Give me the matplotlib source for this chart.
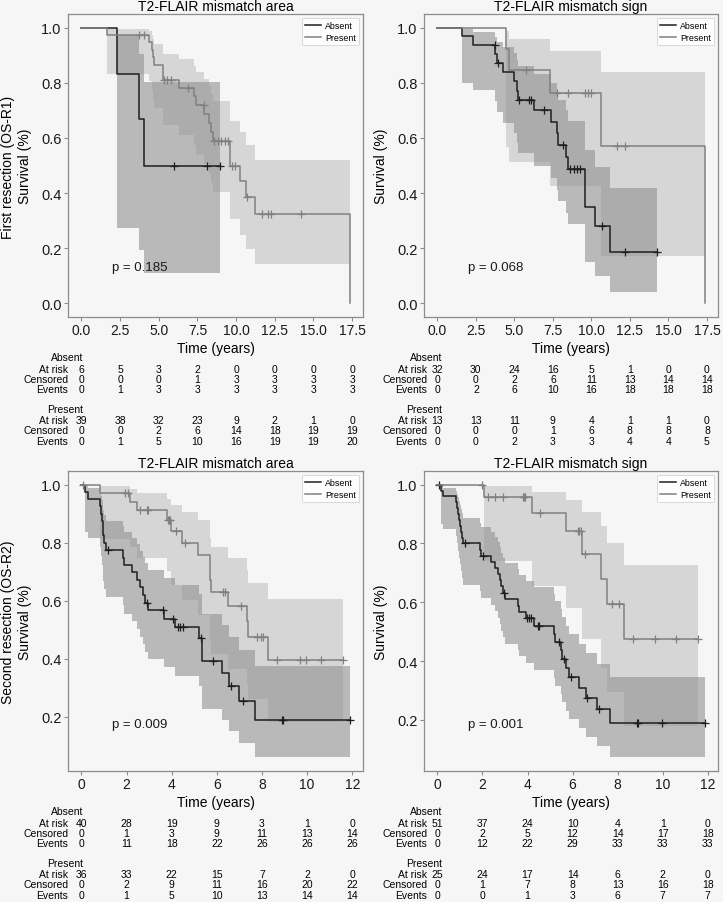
import numpy as np
import matplotlib.pyplot as plt

plt.rcParams['font.family'] = ['Liberation Sans', 'DejaVu Sans']
plt.rcParams['axes.edgecolor'] = '#8c8c8c'
plt.rcParams['xtick.color'] = '#8c8c8c'
plt.rcParams['ytick.color'] = '#8c8c8c'
plt.rcParams['xtick.labelcolor'] = '#1a1a1a'
plt.rcParams['ytick.labelcolor'] = '#1a1a1a'

BG = '#f6f6f6'
ABS_LINE, ABS_FILL = '#1e1e1e', '#2e2e2e'
PRE_LINE, PRE_FILL = '#808080', '#8e8e8e'

# ---------------- OS-R1, T2-FLAIR mismatch area ----------------
a1_abs_t = [2.32, 3.71, 4.03]
a1_abs_s = [0.833, 0.667, 0.500]
a1_abs_lo = [0.273, 0.194, 0.111]
a1_abs_hi = [0.975, 0.904, 0.804]
a1_abs_cens = [5.97, 8.15, 8.97]

a1_pre_t = [1.63, 4.36, 4.55, 4.64, 4.72, 5.25, 5.30, 6.29, 7.30, 7.40, 7.94,
            8.28, 8.37, 8.48, 9.62, 10.26, 10.65, 11.22, 17.34]
a1_pre_s = [0.974, 0.947, 0.920, 0.893, 0.866, 0.839, 0.812, 0.782, 0.751, 0.719,
            0.687, 0.654, 0.621, 0.589, 0.498, 0.443, 0.387, 0.323, 0.0]
a1_pre_lo = [0.832, 0.805, 0.773, 0.740, 0.708, 0.676, 0.646, 0.610, 0.574, 0.539,
             0.504, 0.469, 0.436, 0.403, 0.307, 0.249, 0.198, 0.141, 0.141]
a1_pre_hi = [0.996, 0.987, 0.974, 0.959, 0.942, 0.924, 0.906, 0.885, 0.862, 0.839,
             0.814, 0.788, 0.761, 0.734, 0.663, 0.620, 0.574, 0.520, 0.520]
a1_pre_cens = [3.71, 4.03, 5.34, 5.54, 5.79, 6.87, 7.90, 8.55, 8.80, 9.05, 9.30,
               9.50, 9.72, 9.92, 10.72, 11.65, 12.08, 12.23, 14.23]

# ---------------- OS-R1, T2-FLAIR mismatch sign ----------------
s1_abs_t = [1.61, 2.32, 3.75, 3.85, 4.25, 4.95, 5.15, 5.22, 6.29, 7.37, 7.79,
            7.86, 8.37, 8.48, 9.58, 10.26, 11.23]
s1_abs_s = [0.969, 0.938, 0.905, 0.873, 0.839, 0.806, 0.772, 0.739, 0.700, 0.659,
            0.617, 0.576, 0.532, 0.488, 0.348, 0.279, 0.186]
s1_abs_lo = [0.798, 0.773, 0.734, 0.696, 0.656, 0.617, 0.580, 0.544, 0.500, 0.455,
             0.412, 0.371, 0.328, 0.287, 0.151, 0.100, 0.039]
s1_abs_hi = [0.996, 0.984, 0.968, 0.950, 0.930, 0.908, 0.884, 0.860, 0.832, 0.801,
             0.769, 0.736, 0.700, 0.662, 0.555, 0.493, 0.417]
s1_abs_cens = [3.71, 3.95, 5.33, 5.97, 6.05, 6.89, 8.16, 8.59, 8.87, 9.08, 9.23,
               10.69, 12.20, 14.24]

s1_pre_t = [4.47, 4.62, 7.30, 10.65, 17.35]
s1_pre_s = [0.923, 0.846, 0.762, 0.571, 0.0]
s1_pre_lo = [0.566, 0.512, 0.427, 0.170, 0.170]
s1_pre_hi = [0.989, 0.959, 0.917, 0.838, 0.838]
s1_pre_cens = [5.75, 7.75, 8.48, 9.58, 9.80, 9.95, 11.66, 12.15]

# ---------------- OS-R2, T2-FLAIR mismatch area ----------------
a2_abs_t = [0.18, 0.28, 0.81, 0.86, 0.90, 0.94, 0.97, 1.02, 1.10, 1.84, 1.90, 2.24,
            2.46, 2.58, 2.75, 2.80, 2.97, 3.64, 4.15, 5.23, 5.35, 6.21, 6.55, 7.00, 7.69]
a2_abs_s = [0.975, 0.950, 0.925, 0.900, 0.875, 0.850, 0.825, 0.800, 0.775, 0.749,
            0.723, 0.698, 0.672, 0.646, 0.620, 0.594, 0.567, 0.539, 0.509, 0.473,
            0.394, 0.350, 0.306, 0.255, 0.191]
a2_abs_lo = [0.836, 0.815, 0.785, 0.755, 0.725, 0.696, 0.668, 0.640, 0.612, 0.584,
             0.556, 0.529, 0.502, 0.476, 0.450, 0.425, 0.399, 0.371, 0.342, 0.305,
             0.229, 0.189, 0.152, 0.110, 0.061]
a2_abs_hi = [0.996, 0.987, 0.975, 0.961, 0.946, 0.930, 0.912, 0.895, 0.876, 0.856,
             0.836, 0.816, 0.794, 0.773, 0.751, 0.729, 0.705, 0.680, 0.654, 0.623,
             0.555, 0.517, 0.476, 0.430, 0.376]
a2_abs_cens = [1.16, 2.90, 3.60, 4.05, 4.30, 4.37, 4.48, 5.30, 5.85, 6.63, 7.17,
               8.87, 8.94, 11.88]

a2_pre_t = [0.84, 2.16, 2.46, 3.78, 3.97, 4.45, 5.18, 5.68, 5.70, 5.74, 6.51, 7.32,
            7.40, 8.28]
a2_pre_s = [0.971, 0.941, 0.911, 0.877, 0.839, 0.799, 0.757, 0.715, 0.673, 0.631,
            0.582, 0.529, 0.476, 0.397]
a2_pre_lo = [0.814, 0.784, 0.748, 0.704, 0.653, 0.602, 0.552, 0.504, 0.460, 0.417,
             0.366, 0.313, 0.263, 0.183]
a2_pre_hi = [0.996, 0.985, 0.970, 0.952, 0.930, 0.905, 0.878, 0.848, 0.817, 0.785,
             0.747, 0.706, 0.662, 0.605]
a2_pre_cens = [0.05, 1.92, 2.05, 2.58, 2.90, 2.95, 3.85, 3.88, 3.93, 4.20, 4.60,
               6.26, 6.36, 7.05, 7.76, 7.95, 8.06, 8.65, 9.68, 9.94, 10.63, 11.59]

# ---------------- OS-R2, T2-FLAIR mismatch sign ----------------
s2_abs_t = [0.15, 0.24, 0.82, 0.88, 0.92, 0.96, 1.00, 1.05, 1.10, 1.15, 1.88, 1.95,
            2.39, 2.54, 2.69, 2.76, 2.83, 2.91, 3.02, 3.57, 3.64, 3.93, 4.30, 5.18,
            5.22, 5.47, 5.52, 5.70, 5.84, 6.28, 6.60, 7.10, 7.68]
s2_abs_s = [0.980, 0.960, 0.940, 0.920, 0.900, 0.880, 0.860, 0.840, 0.820, 0.800,
            0.779, 0.759, 0.738, 0.717, 0.696, 0.675, 0.654, 0.632, 0.611, 0.589,
            0.567, 0.545, 0.520, 0.493, 0.466, 0.437, 0.407, 0.376, 0.345, 0.310,
            0.276, 0.236, 0.189]
s2_abs_lo = [0.866, 0.849, 0.825, 0.801, 0.776, 0.752, 0.729, 0.705, 0.683, 0.660,
             0.637, 0.615, 0.592, 0.569, 0.547, 0.525, 0.503, 0.481, 0.459, 0.437,
             0.416, 0.395, 0.370, 0.342, 0.315, 0.287, 0.260, 0.230, 0.202, 0.172,
             0.143, 0.110, 0.073]
s2_abs_hi = [0.997, 0.990, 0.980, 0.969, 0.957, 0.944, 0.931, 0.917, 0.902, 0.887,
             0.871, 0.855, 0.839, 0.822, 0.804, 0.787, 0.769, 0.751, 0.732, 0.712,
             0.693, 0.673, 0.651, 0.627, 0.603, 0.577, 0.550, 0.521, 0.492, 0.460,
             0.427, 0.389, 0.347]
s2_abs_cens = [0.09, 1.22, 2.02, 2.95, 3.97, 4.08, 4.15, 4.45, 4.52, 5.40, 5.60,
               5.95, 6.66, 7.19, 8.85, 8.92, 9.95, 11.86]

s2_pre_t = [2.06, 4.20, 5.69, 6.43, 7.28, 7.53, 8.30]
s2_pre_s = [0.958, 0.902, 0.842, 0.765, 0.680, 0.595, 0.476]
s2_pre_lo = [0.739, 0.656, 0.580, 0.477, 0.378, 0.296, 0.179]
s2_pre_hi = [0.994, 0.975, 0.947, 0.908, 0.859, 0.802, 0.726]
s2_pre_cens = [1.97, 2.25, 2.54, 2.91, 3.79, 3.85, 3.90, 4.55, 6.22, 6.30, 6.38,
               6.57, 7.75, 8.05, 8.70, 9.66, 10.61, 11.56]

# ---------------- number-at-risk tables ----------------
r1_ticks = [0.0, 2.5, 5.0, 7.5, 10.0, 12.5, 15.0, 17.5]
r2_ticks = [0, 2, 4, 6, 8, 10, 12]

a1_abs_tab = [[6, 5, 3, 2, 0, 0, 0, 0], [0, 0, 0, 1, 3, 3, 3, 3], [0, 1, 3, 3, 3, 3, 3, 3]]
a1_pre_tab = [[39, 38, 32, 23, 9, 2, 1, 0], [0, 0, 2, 6, 14, 18, 19, 19], [0, 1, 5, 10, 16, 19, 19, 20]]
s1_abs_tab = [[32, 30, 24, 16, 5, 1, 0, 0], [0, 0, 2, 6, 11, 13, 14, 14], [0, 2, 6, 10, 16, 18, 18, 18]]
s1_pre_tab = [[13, 13, 11, 9, 4, 1, 1, 0], [0, 0, 0, 1, 6, 8, 8, 8], [0, 0, 2, 3, 3, 4, 4, 5]]
a2_abs_tab = [[40, 28, 19, 9, 3, 1, 0], [0, 1, 3, 9, 11, 13, 14], [0, 11, 18, 22, 26, 26, 26]]
a2_pre_tab = [[36, 33, 22, 15, 7, 2, 0], [0, 2, 9, 11, 16, 20, 22], [0, 1, 5, 10, 13, 14, 14]]
s2_abs_tab = [[51, 37, 24, 10, 4, 1, 0], [0, 2, 5, 12, 14, 17, 18], [0, 12, 22, 29, 33, 33, 33]]
s2_pre_tab = [[25, 24, 17, 14, 6, 2, 0], [0, 1, 7, 8, 13, 16, 18], [0, 0, 1, 3, 6, 7, 7]]

row_names = ['At risk', 'Censored', 'Events']
p_values = ['p = 0.185', 'p = 0.068', 'p = 0.009', 'p = 0.001']
titles = ['T2-FLAIR mismatch area', 'T2-FLAIR mismatch sign'] * 2


def draw_group(ax, t, s, lo, hi, cens, line_c, fill_c, label):
    t_end = max(t[-1], max(cens))
    tt = np.r_[0.0, t]
    ss = np.r_[1.0, s]
    ll = np.r_[1.0, lo]
    hh = np.r_[1.0, hi]
    if t_end > t[-1]:
        tt = np.r_[tt, t_end]
        ss = np.r_[ss, ss[-1]]
        ll = np.r_[ll, ll[-1]]
        hh = np.r_[hh, hh[-1]]
    ax.fill_between(tt, ll, hh, step='post', color=fill_c, alpha=0.3, lw=0)
    ax.step(tt, ss, where='post', color=line_c, lw=1.1, label=label)
    idx = np.searchsorted(tt, cens, side='right') - 1
    ax.plot(cens, ss[idx], ls='none', marker='+', ms=6, mew=0.9, color=line_c)


def risk_table(ax, ticks, abs_tab, pre_tab, lab_dx, head_dx):
    px = 0.72  # points per pixel at 100 dpi
    head_y = [40, 92]
    row_y = [[52, 62.5, 72.5], [103, 113.5, 124]]
    fs = 7.5
    for g, (name, tab) in enumerate([('Absent', abs_tab), ('Present', pre_tab)]):
        ax.annotate(name, xy=(ticks[0], 0), xycoords=('data', 'axes fraction'),
                    xytext=(head_dx * px, -head_y[g] * px), textcoords='offset points',
                    ha='right', va='center', fontsize=fs, annotation_clip=False)
        for r in range(3):
            ax.annotate(row_names[r], xy=(ticks[0], 0), xycoords=('data', 'axes fraction'),
                        xytext=(lab_dx * px, -row_y[g][r] * px), textcoords='offset points',
                        ha='right', va='center', fontsize=fs, annotation_clip=False)
            for x, v in zip(ticks, tab[r]):
                ax.annotate(str(v), xy=(x, 0), xycoords=('data', 'axes fraction'),
                            xytext=(0, -row_y[g][r] * px), textcoords='offset points',
                            ha='center', va='center', fontsize=fs, annotation_clip=False)


fig = plt.figure(figsize=(7.23, 9.03), dpi=100, facecolor=BG)
W, H = 723.0, 903.0
boxes = [(68, 15, 295, 303), (424, 15, 294, 303), (68, 472, 295, 300), (424, 472, 294, 300)]
axes = []
for (x0, y0, w, h) in boxes:
    ax = fig.add_axes([x0 / W, 1 - (y0 + h) / H, w / W, h / H], facecolor=BG)
    axes.append(ax)

panels = [
    (a1_abs_t, a1_abs_s, a1_abs_lo, a1_abs_hi, a1_abs_cens,
     a1_pre_t, a1_pre_s, a1_pre_lo, a1_pre_hi, a1_pre_cens, r1_ticks, a1_abs_tab, a1_pre_tab),
    (s1_abs_t, s1_abs_s, s1_abs_lo, s1_abs_hi, s1_abs_cens,
     s1_pre_t, s1_pre_s, s1_pre_lo, s1_pre_hi, s1_pre_cens, r1_ticks, s1_abs_tab, s1_pre_tab),
    (a2_abs_t, a2_abs_s, a2_abs_lo, a2_abs_hi, a2_abs_cens,
     a2_pre_t, a2_pre_s, a2_pre_lo, a2_pre_hi, a2_pre_cens, r2_ticks, a2_abs_tab, a2_pre_tab),
    (s2_abs_t, s2_abs_s, s2_abs_lo, s2_abs_hi, s2_abs_cens,
     s2_pre_t, s2_pre_s, s2_pre_lo, s2_pre_hi, s2_pre_cens, r2_ticks, s2_abs_tab, s2_pre_tab),
]

for i, (ax, p) in enumerate(zip(axes, panels)):
    draw_group(ax, *p[0:5], ABS_LINE, ABS_FILL, 'Absent')
    draw_group(ax, *p[5:10], PRE_LINE, PRE_FILL, 'Present')
    ticks = p[10]
    ax.margins(x=0.05, y=0.05)
    ax.set_xticks(ticks)
    if i < 2:
        ax.set_yticks([0.0, 0.2, 0.4, 0.6, 0.8, 1.0])
        ax.set_xticklabels(['%.1f' % t for t in ticks])
    else:
        ax.set_yticks([0.2, 0.4, 0.6, 0.8, 1.0])
    ax.tick_params(axis='both', length=3, width=0.8, pad=1.5)
    ax.tick_params(axis='x', labelsize=10)
    ax.tick_params(axis='y', labelsize=10.5)
    for sp in ax.spines.values():
        sp.set_linewidth(0.9)
    ax.set_title(titles[i], fontsize=10, pad=3)
    ax.set_xlabel('Time (years)', fontsize=10, labelpad=2.5)
    ax.set_ylabel('Survival (%)', fontsize=10, labelpad=6.5)
    ax.text(0.148, 0.165 if i < 2 else 0.157, p_values[i], transform=ax.transAxes,
            fontsize=9.5, va='center', ha='left', color='#1a1a1a')
    leg = ax.legend(loc='upper right', fontsize=6.4, handlelength=1.7, borderaxespad=0.4,
                    borderpad=0.4, labelspacing=0.3, handletextpad=0.5, framealpha=0.8)
    leg.get_frame().set_edgecolor('#cccccc')
    leg.get_frame().set_linewidth(0.6)
    if i % 2 == 0:
        risk_table(ax, ticks, p[11], p[12], -13, 2)
    else:
        risk_table(ax, ticks, p[11], p[12], -10, 5)

fig.text(8.5 / W, 1 - 167 / H, 'First resection (OS-R1)', rotation=90,
         ha='center', va='center', fontsize=10)
fig.text(8.5 / W, 1 - 622 / H, 'Second resection (OS-R2)', rotation=90,
         ha='center', va='center', fontsize=10)

fig.savefig('out.png', dpi=100, facecolor=BG)
